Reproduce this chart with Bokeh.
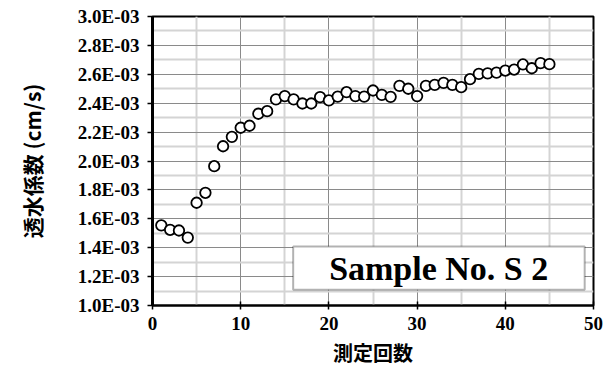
from bokeh.plotting import figure
from bokeh.models import FixedTicker, CustomJSTickFormatter, BoxAnnotation, Label, Range1d
from bokeh.embed import file_html
from bokeh.resources import INLINE

# ---- data ----
count = list(range(1, 46))
permeability = [
    1.555e-3, 1.524e-3, 1.519e-3, 1.470e-3, 1.711e-3, 1.780e-3, 1.964e-3, 2.102e-3,
    2.167e-3, 2.230e-3, 2.244e-3, 2.327e-3, 2.345e-3, 2.426e-3, 2.449e-3, 2.426e-3,
    2.398e-3, 2.398e-3, 2.442e-3, 2.419e-3, 2.446e-3, 2.476e-3, 2.449e-3, 2.446e-3,
    2.488e-3, 2.458e-3, 2.444e-3, 2.520e-3, 2.500e-3, 2.449e-3, 2.520e-3, 2.527e-3,
    2.541e-3, 2.527e-3, 2.511e-3, 2.566e-3, 2.603e-3, 2.606e-3, 2.612e-3, 2.626e-3,
    2.633e-3, 2.668e-3, 2.642e-3, 2.677e-3, 2.670e-3,
]
x_ticks = [0, 10, 20, 30, 40, 50]
x_minor = [5, 15, 25, 35, 45]
y_ticks = [1.0e-3, 1.2e-3, 1.4e-3, 1.6e-3, 1.8e-3, 2.0e-3, 2.2e-3, 2.4e-3, 2.6e-3, 2.8e-3, 3.0e-3]
y_minor = [1.1e-3, 1.3e-3, 1.5e-3, 1.7e-3, 1.9e-3, 2.1e-3, 2.3e-3, 2.5e-3, 2.7e-3, 2.9e-3]
x_title = "測定回数"
y_title = "透水係数 (cm/s)"
sample_text = "Sample No. S 2"

SERIF = "Liberation Serif"
JP = "Noto Sans CJK JP"

p = figure(
    frame_width=441, frame_height=289,
    min_border_left=152, min_border_right=20, min_border_top=16, min_border_bottom=56,
    x_range=Range1d(0, 50), y_range=Range1d(1.0e-3, 3.0e-3),
    output_backend="svg", toolbar_location=None,
    background_fill_color="white", border_fill_color="white",
)
p.outline_line_color = "black"
p.outline_line_width = 2

p.xaxis.ticker = FixedTicker(ticks=x_ticks, minor_ticks=x_minor)
p.yaxis.ticker = FixedTicker(ticks=y_ticks, minor_ticks=y_minor)
p.yaxis.formatter = CustomJSTickFormatter(code="""
var s = tick.toExponential(1).split('e');
var e = parseInt(s[1]);
var a = Math.abs(e);
return s[0] + 'E' + (e < 0 ? '-' : '+') + (a < 10 ? '0' : '') + a;
""")

for g in (p.xgrid, p.ygrid):
    g.grid_line_color = "#8a8a8a"
    g.grid_line_width = 1
    g.minor_grid_line_color = "#d4d4d4"
    g.minor_grid_line_width = 2

for ax in (p.xaxis, p.yaxis):
    ax.axis_line_color = "black"
    ax.major_tick_line_color = "black"
    ax.major_tick_line_width = 1.5
    ax.minor_tick_line_color = None
    ax.major_label_text_font = SERIF
    ax.major_label_text_font_style = "bold"
    ax.major_label_text_font_size = "19px"
    ax.major_label_text_color = "black"
    ax.axis_label_text_font = JP
    ax.axis_label_text_font_style = "bold"
    ax.axis_label_text_color = "black"

p.yaxis.axis_line_width = 3
p.yaxis.major_tick_in = 0
p.yaxis.major_tick_out = 5
p.yaxis.major_label_standoff = 8
p.yaxis.axis_label = y_title
p.yaxis.axis_label_text_font_size = "21px"
p.yaxis.axis_label_standoff = 28

p.xaxis.axis_line_width = 2
p.xaxis.major_tick_in = 4
p.xaxis.major_tick_out = 4
p.xaxis.major_label_standoff = 7
p.xaxis.axis_label = x_title
p.xaxis.axis_label_text_font_size = "20px"
p.xaxis.axis_label_standoff = 5

p.scatter(count, permeability, marker="circle", size=10.5,
          fill_color="white", line_color="black", line_width=1.8)

p.add_layout(BoxAnnotation(left=15.95, right=49.0, bottom=1.109e-3, top=1.408e-3,
                           fill_color="white", fill_alpha=1.0,
                           line_color="black", line_width=2))
p.add_layout(Label(x=32.45, y=1.258e-3, text=sample_text,
                   text_align="center", text_baseline="middle",
                   text_font=SERIF, text_font_style="bold",
                   text_font_size="34px", text_color="black"))

open("out.html", "w").write(file_html(p, INLINE))
